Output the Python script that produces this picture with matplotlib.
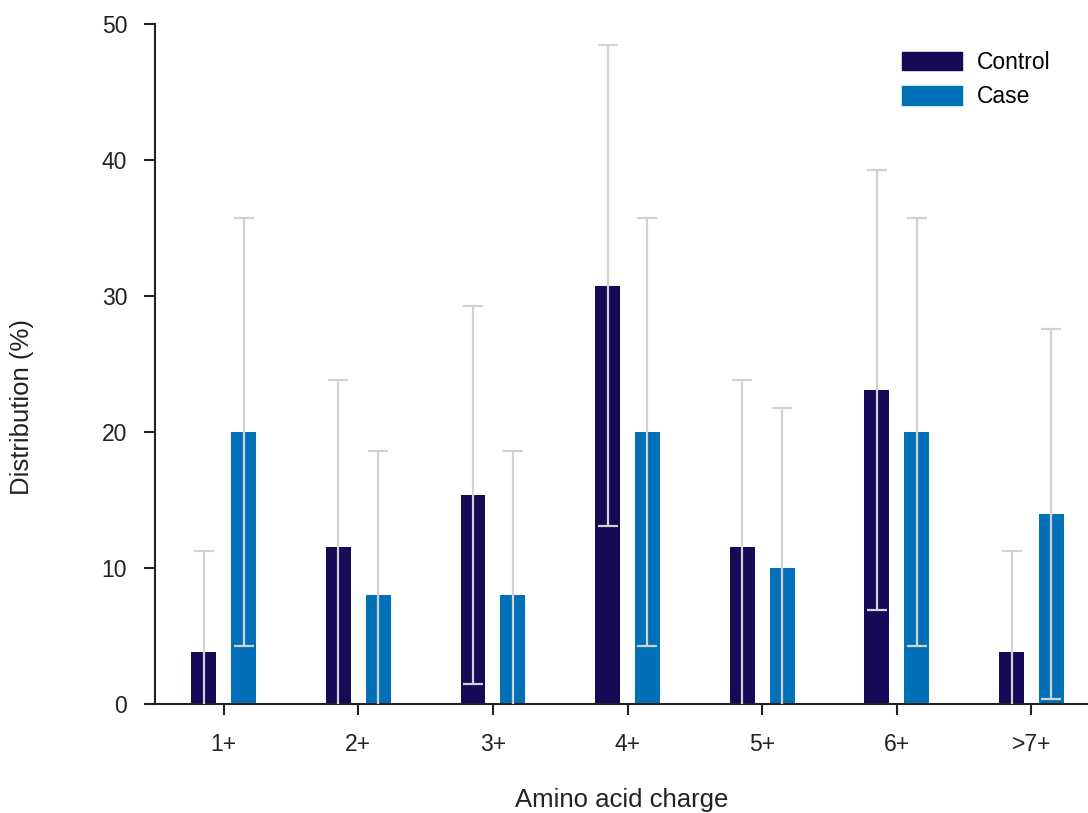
import matplotlib
matplotlib.use("Agg")
import matplotlib.pyplot as plt
import numpy as np
from matplotlib.patches import Patch

categories = ["1+", "2+", "3+", "4+", "5+", "6+", ">7+"]
control = [3.85, 11.54, 15.38, 30.77, 11.54, 23.08, 3.85]
case = [20.0, 8.0, 8.0, 20.0, 10.0, 20.0, 14.0]
control_err = [7.4, 12.3, 13.9, 17.7, 12.3, 16.2, 7.4]
case_err = [15.7, 10.6, 10.6, 15.7, 11.8, 15.7, 13.6]

plt.rcParams['font.family'] = ['Liberation Sans', 'DejaVu Sans']

W, H = 1088, 813
fig = plt.figure(figsize=(W / 100, H / 100), dpi=100)
ax = fig.add_axes([155 / W, 1 - 704 / H, 1 - 155 / W, (704 - 24) / H])

x = np.arange(len(categories))
off = 0.148
w = 0.185
c_ctrl = "#140a55"
c_case = "#0070b8"
ecol = "#d2d2d2"
tcol = "#222222"

ax.bar(x - off, control, width=w, color=c_ctrl, zorder=2)
ax.bar(x + off, case, width=w, color=c_case, zorder=2)
ax.errorbar(x - off, control, yerr=control_err, fmt='none', ecolor=ecol,
            elinewidth=1.6, capsize=7.5, capthick=1.6, zorder=3)
ax.errorbar(x + off, case, yerr=case_err, fmt='none', ecolor=ecol,
            elinewidth=1.6, capsize=7.5, capthick=1.6, zorder=3)

ax.set_xlim(-0.51, 6.42)
ax.set_ylim(0, 50)
ax.set_xticks(x)
ax.set_xticklabels(categories)
ax.set_yticks([0, 10, 20, 30, 40, 50])
ax.tick_params(axis='y', labelsize=16.5, length=8, width=1.5, colors=tcol, pad=12)
ax.tick_params(axis='x', labelsize=16.5, length=8, width=1.5, colors=tcol, pad=13)
for s in ['top', 'right']:
    ax.spines[s].set_visible(False)
for s in ['left', 'bottom']:
    ax.spines[s].set_linewidth(1.5)
    ax.spines[s].set_color(tcol)
ax.spines['bottom'].set_bounds(-0.58, 6.42)
ax.spines['bottom'].set_clip_on(False)

ax.set_ylabel("Distribution (%)", fontsize=18.5, color=tcol)
ax.yaxis.set_label_coords(22 / W, 0.5, transform=fig.transFigure)
ax.set_xlabel("Amino acid charge", fontsize=18.5, color=tcol)
ax.xaxis.set_label_coords((155 + W) / 2 / W, 1 - 800 / H, transform=fig.transFigure)
ax.xaxis.label.set_va('center')
ax.yaxis.label.set_va('center')

handles = [Patch(color=c_ctrl, label="Control"), Patch(color=c_case, label="Case")]
fs = 16.5
px = fs * 100 / 72
ax.legend(handles=handles, loc='upper left', bbox_to_anchor=(902 / W, 1 - 51 / H),
          bbox_transform=fig.transFigure, frameon=False, borderpad=0, borderaxespad=0,
          fontsize=fs, handlelength=60 / px, handleheight=20 / px,
          handletextpad=15 / px, labelspacing=0.5)

fig.savefig("out.png", dpi=100)
